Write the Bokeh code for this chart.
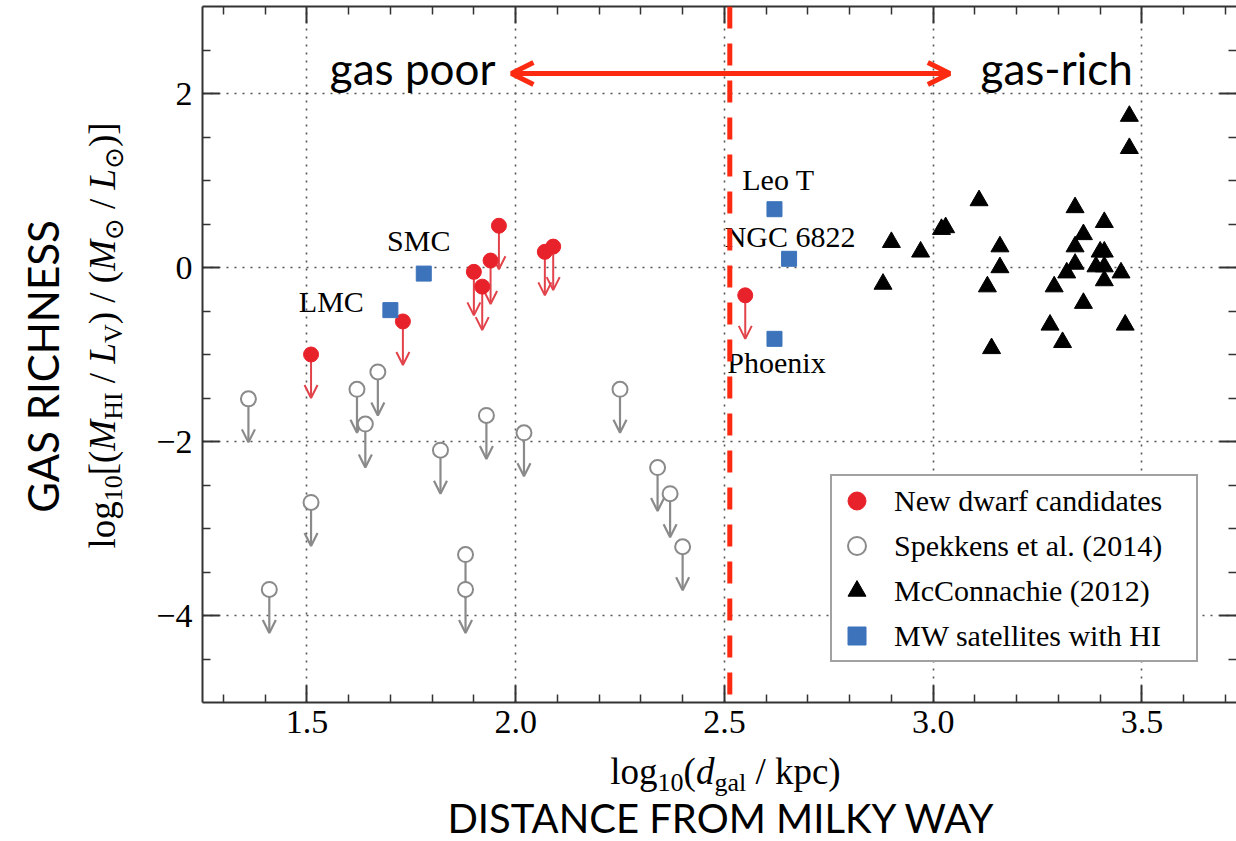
from math import pi
from bokeh.plotting import figure
from bokeh.layouts import column, row
from bokeh.models import (ColumnDataSource, Arrow, OpenHead, Span, Label, Legend,
                          LegendItem, LinearAxis, FixedTicker, Range1d)
from bokeh.core.properties import value
from bokeh.embed import file_html
from bokeh.resources import INLINE

# ---------------- data ----------------
new_x = [1.51, 1.73, 1.90, 1.92, 1.94, 1.96, 2.07, 2.09, 2.55]
new_y = [-1.00, -0.62, -0.05, -0.22, 0.08, 0.48, 0.18, 0.24, -0.32]

spk_x = [1.36, 1.62, 1.67, 1.64, 1.82, 1.93, 1.51, 1.41, 1.88, 1.88,
         2.02, 2.25, 2.34, 2.37, 2.40]
spk_y = [-1.51, -1.40, -1.20, -1.80, -2.10, -1.70, -2.70, -3.70, -3.30, -3.70,
         -1.90, -1.40, -2.30, -2.60, -3.21]

mc_x = [2.88, 2.90, 2.97, 3.02, 3.03, 3.11, 3.16, 3.16, 3.13, 3.14,
        3.34, 3.36, 3.34, 3.41, 3.34, 3.32, 3.29, 3.36, 3.28, 3.31,
        3.40, 3.41, 3.39, 3.41, 3.41, 3.45, 3.46, 3.47, 3.47]
mc_y = [-0.19, 0.29, 0.18, 0.44, 0.46, 0.77, 0.24, 0.00, -0.22, -0.93,
        0.69, 0.38, 0.24, 0.52, 0.04, -0.06, -0.22, -0.41, -0.66, -0.86,
        0.18, 0.18, 0.01, 0.01, -0.15, -0.06, -0.66, 1.74, 1.37]

mw_names = ["LMC", "SMC", "Leo T", "NGC 6822", "Phoenix"]
mw_x = [1.70, 1.78, 2.62, 2.655, 2.62]
mw_y = [-0.49, -0.07, 0.67, 0.10, -0.82]

limit_len = 0.5          # length of upper-limit arrows (dex)
divide_x = 2.513         # red dashed divider
arrow_x0, arrow_x1, arrow_y = 1.99, 3.04, 2.23

x_ticks = [1.5, 2.0, 2.5, 3.0, 3.5]
x_tick_labels = ["1.5", "2.0", "2.5", "3.0", "3.5"]
x_minor = [1.3, 1.4, 1.6, 1.7, 1.8, 1.9, 2.1, 2.2, 2.3, 2.4, 2.6, 2.7, 2.8, 2.9,
           3.1, 3.2, 3.3, 3.4, 3.6, 3.7]
y_ticks = [-4, -2, 0, 2]
y_tick_labels = ["\u22124", "\u22122", "0", "2"]
y_minor = [-4.5, -3.5, -3, -2.5, -1.5, -1, -0.5, 0.5, 1, 1.5, 2.5]

# ---------------- styles ----------------
SERIF = "Liberation Serif"
SANS = "Lato"
RED = "#e8222b"
RED_ARROW = "#e2434b"
GREY = "#8a8a8a"
BLUE = "#3c73bb"
ORANGE = "#fb2a10"
AX = "#333333"
BASE_CORR = 0.33   # empirical alphabetic-baseline correction (fraction of font size)

W, H = 1236, 841
LW = 135            # width of left label strip
MH = 748            # height of main figure
FL, FT, FB = 202, 6, 702   # frame edges in page pixels
PX_PER_X = 417.5
X0 = 1.25
X1 = X0 + (W - FL) / PX_PER_X

p = figure(width=W - LW, height=MH, x_range=Range1d(X0, X1), y_range=Range1d(-5, 3),
           output_backend="svg", toolbar_location=None,
           min_border_left=FL - LW, min_border_right=0, min_border_top=FT,
           min_border_bottom=MH - FB)
p.outline_line_color = None
p.background_fill_color = "white"
p.border_fill_color = "white"


def style_axis(ax, ticks, minor, labels=None, line=True):
    ax.ticker = FixedTicker(ticks=ticks, minor_ticks=minor)
    ax.major_tick_in = 17
    ax.major_tick_out = 0
    ax.minor_tick_in = 8
    ax.minor_tick_out = 0
    ax.major_tick_line_color = AX
    ax.major_tick_line_width = 2
    ax.minor_tick_line_color = AX
    ax.minor_tick_line_width = 1.5
    ax.axis_line_color = AX if line else None
    ax.axis_line_width = 2
    if labels is not None:
        ax.major_label_overrides = dict(zip(ticks, labels))
        ax.major_label_text_font = SERIF
        ax.major_label_text_font_size = "34px"
        ax.major_label_text_color = "black"
    else:
        ax.major_label_overrides = {t: "" for t in ticks}
        ax.major_label_text_font_size = "1px"
        ax.major_label_standoff = 0


style_axis(p.xaxis[0], x_ticks, x_minor, x_tick_labels)
p.xaxis[0].major_label_standoff = 8
style_axis(p.yaxis[0], y_ticks, y_minor, y_tick_labels)
p.yaxis[0].major_label_standoff = 10

top = LinearAxis()
style_axis(top, x_ticks, x_minor)
p.add_layout(top, "above")
right = LinearAxis()
style_axis(right, y_ticks, y_minor, line=False)
p.add_layout(right, "right")

p.xgrid.ticker = FixedTicker(ticks=x_ticks)
p.ygrid.ticker = FixedTicker(ticks=y_ticks)
for g in (p.xgrid[0], p.ygrid[0]):
    g.grid_line_color = "#555555"
    g.grid_line_dash = "2 6"
    g.grid_line_width = 1.6

# ---------------- upper-limit arrows ----------------
spk_src = ColumnDataSource(dict(x=spk_x, y=spk_y, y_end=[v - limit_len for v in spk_y]))
new_src = ColumnDataSource(dict(x=new_x, y=new_y, y_end=[v - limit_len for v in new_y]))

p.add_layout(Arrow(end=OpenHead(size=13, line_color=GREY, line_width=2.2),
                   x_start="x", y_start="y", x_end="x", y_end="y_end", source=spk_src,
                   line_color=GREY, line_width=2.2, level="underlay"))
p.add_layout(Arrow(end=OpenHead(size=13, line_color=RED_ARROW, line_width=2),
                   x_start="x", y_start="y", x_end="x", y_end="y_end", source=new_src,
                   line_color=RED_ARROW, line_width=2, level="underlay"))

# ---------------- markers ----------------
r_spk = p.scatter("x", "y", source=spk_src, marker="circle", size=15,
                  fill_color="white", line_color=GREY, line_width=2)
r_new = p.scatter("x", "y", source=new_src, marker="circle", size=15,
                  fill_color=RED, line_color=RED)
r_mc = p.scatter(mc_x, mc_y, marker="triangle", size=18,
                 fill_color="black", line_color="black")
mw_off = {"LMC": (-59, -9), "SMC": (-5, -33), "Leo T": (4, -30),
          "NGC 6822": (1, -22), "Phoenix": (2, 24)}
mw_src = ColumnDataSource(dict(x=mw_x, y=mw_y, name=mw_names,
                               dx=[mw_off[n][0] for n in mw_names],
                               dy=[mw_off[n][1] for n in mw_names]))
r_mw = p.scatter("x", "y", source=mw_src, marker="square", size=15,
                 fill_color=BLUE, line_color=BLUE)
p.text(x="x", y="y", text="name", x_offset="dx", y_offset="dy", source=mw_src,
       text_font=value(SERIF), text_font_size="30px", text_align="center",
       text_baseline="middle", text_color="black")

# ---------------- divider and double arrow ----------------
p.add_layout(Arrow(start=OpenHead(size=22, line_color=ORANGE, line_width=5),
                   end=OpenHead(size=22, line_color=ORANGE, line_width=5),
                   x_start=arrow_x0, y_start=arrow_y, x_end=arrow_x1, y_end=arrow_y,
                   line_color=ORANGE, line_width=5))
p.add_layout(Span(location=divide_x, dimension="height", line_color=ORANGE,
                  line_width=5, line_dash="22 15"))


def frame_label(text, cx, cy, size, align):
    # cx, cy: page pixels of the alphabetic baseline anchor
    p.add_layout(Label(x=cx - FL, y=FB - (cy - BASE_CORR * size), x_units="screen",
                       y_units="screen", text=text, text_font=SANS,
                       text_font_size=f"{size}px", text_align=align,
                       text_baseline="alphabetic", text_color="black"))


frame_label("gas poor", 495, 82, 44, "right")
frame_label("gas-rich", 980, 82, 44, "left")

# ---------------- legend ----------------
legend = Legend(items=[LegendItem(label="New dwarf candidates", renderers=[r_new]),
                       LegendItem(label="Spekkens et al. (2014)", renderers=[r_spk]),
                       LegendItem(label="McConnachie (2012)", renderers=[r_mc]),
                       LegendItem(label="MW satellites with HI", renderers=[r_mw])],
                location=(628, 40), orientation="vertical", glyph_width=45, glyph_height=45,
                label_height=45, label_width=300, padding=2, spacing=0, label_standoff=15,
                margin=0, label_text_font=SERIF, label_text_font_size="30px",
                label_text_color="black",
                border_line_color="#444444", border_line_width=2,
                background_fill_color="white", background_fill_alpha=1.0)
p.add_layout(legend, "center")


# ---------------- label strips (left and bottom) ----------------
def blank_fig(w, h, top=0, bottom=0, y0=None, y1=None):
    y0 = h if y0 is None else y0
    y1 = 0 if y1 is None else y1
    f = figure(width=w, height=h, x_range=Range1d(0, w), y_range=Range1d(y0, y1),
               output_backend="svg", toolbar_location=None, min_border=0,
               min_border_top=top, min_border_bottom=bottom,
               x_axis_type=None, y_axis_type=None)
    f.outline_line_color = None
    f.background_fill_color = "white"
    f.border_fill_color = "white"
    return f


# left strip: its frame lines up with the main frame, so data y == page y
left = blank_fig(LW, MH, top=FT, bottom=MH - FB, y0=FB, y1=FT)
# bottom strip: data y == page y - MH
bottom = blank_fig(W, H - MH)


def put(fig, txt, x, y, size, font=SERIF, style="normal", align="left",
        baseline="alphabetic", angle=0.0):
    fig.text(x=[x], y=[y], text=[txt], text_font=value(font),
             text_font_size=f"{size}px", text_font_style=style, text_align=align,
             text_baseline=baseline, angle=angle, text_color="black")


WID = {"normal": {" ": .25, "(": .333, ")": .333, "[": .333, "]": .333, "/": .278,
                  "l": .278, "o": .5, "g": .5, "1": .5, "0": .5, "k": .5, "p": .5,
                  "c": .444, "a": .444, "H": .722, "I": .333, "V": .722},
       "italic": {"M": .833, "L": .556, "d": .5}}
SYMW = {"\u2299": .838}
F, f, SUB = 37, 26, 8
SUN = "\u2299"
SYMFONT = "DejaVu Sans"


def piece_width(txt, size, style, font):
    if font != SERIF:
        return sum(SYMW.get(c, .6) for c in txt) * size
    return sum(WID[style].get(c, .5) for c in txt) * size


def total(pieces):
    return sum(pc[1] if pc[0] is None else piece_width(pc[0], pc[1], pc[2], pc[4])
               for pc in pieces)


def compose(fig, pieces, sx, sy, rotated):
    # sx, sy: start of the baseline in the figure's pixel coordinates (y down)
    pos = 0.0
    for pc in pieces:
        if pc[0] is None:
            pos += pc[1]
            continue
        txt, size, style, shift, font = pc
        corr = BASE_CORR * size
        if rotated:
            put(fig, txt, sx + shift - corr, sy - pos, size, font=font, style=style,
                angle=pi / 2)
        else:
            put(fig, txt, sx + pos, sy + shift - corr, size, font=font, style=style)
        pos += piece_width(txt, size, style, font)


GAP = (None, .25 * F)
xlab = [("log", F, "normal", 0, SERIF), ("10", f, "normal", SUB, SERIF),
        ("(", F, "normal", 0, SERIF), ("d", F, "italic", 0, SERIF),
        ("gal", f, "normal", SUB, SERIF), GAP, ("/ kpc)", F, "normal", 0, SERIF)]
ylab = [("log", F, "normal", 0, SERIF), ("10", f, "normal", SUB, SERIF),
        ("[(", F, "normal", 0, SERIF), ("M", F, "italic", 0, SERIF),
        ("HI", f, "normal", SUB, SERIF), GAP, ("/", F, "normal", 0, SERIF), GAP,
        ("L", F, "italic", 0, SERIF), ("V", f, "normal", SUB, SERIF),
        (")", F, "normal", 0, SERIF), GAP, ("/", F, "normal", 0, SERIF), GAP,
        ("(", F, "normal", 0, SERIF), ("M", F, "italic", 0, SERIF),
        (SUN, f, "normal", SUB, SYMFONT), GAP, ("/", F, "normal", 0, SERIF), GAP,
        ("L", F, "italic", 0, SERIF), (SUN, f, "normal", SUB, SYMFONT),
        (")]", F, "normal", 0, SERIF)]

compose(bottom, xlab, 725 - total(xlab) / 2, 783 - MH, rotated=False)
compose(left, ylab, 114, 335 + total(ylab) / 2, rotated=True)

put(left, "GAS RICHNESS", 42, 366, 42, font=SANS, align="center", baseline="middle",
    angle=pi / 2)
put(bottom, "DISTANCE FROM MILKY WAY", 721, 817 - MH, 40, font=SANS, align="center",
    baseline="middle")

layout = column(row(left, p), bottom)
open("out.html", "w").write(file_html(layout, INLINE))
